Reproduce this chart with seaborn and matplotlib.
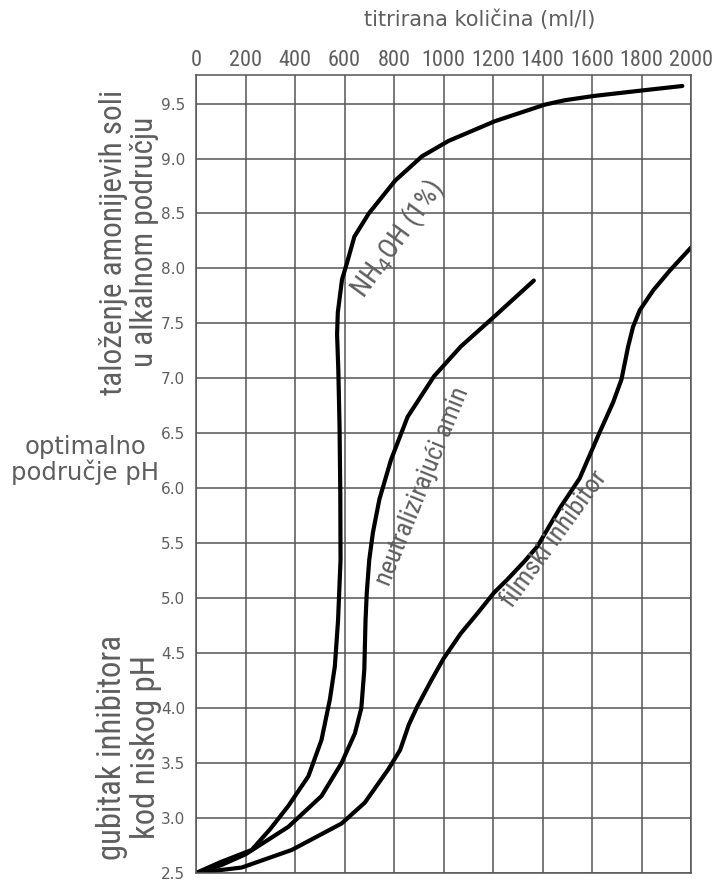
import matplotlib
matplotlib.use("Agg")
import matplotlib.pyplot as plt
from matplotlib import font_manager
import seaborn as sns
import pandas as pd

# ---- data ----
nh4oh_x = [0, 100, 225, 300, 373, 454, 507, 541, 561, 574, 584, 583, 580, 575, 570,
           573, 590, 610, 640, 698, 805, 913, 1020, 1208, 1409, 1489, 1610, 1805, 1965]
nh4oh_y = [2.5, 2.6, 2.71, 2.9, 3.11, 3.38, 3.71, 4.08, 4.38, 4.8, 5.35, 5.95, 6.56, 7.08, 7.4,
           7.6, 7.9, 8.05, 8.29, 8.5, 8.8, 9.02, 9.16, 9.34, 9.49, 9.53, 9.57, 9.62, 9.66]

amin_x = [0, 100, 200, 373, 507, 588, 642, 668, 680, 685, 690, 700, 715, 741, 788,
          855, 962, 1070, 1204, 1365]
amin_y = [2.5, 2.57, 2.67, 2.92, 3.2, 3.5, 3.77, 4.0, 4.35, 4.8, 5.05, 5.35, 5.6, 5.9, 6.26,
          6.65, 7.02, 7.29, 7.56, 7.89]

film_x = [0, 185, 387, 588, 682, 776, 825, 860, 893, 950, 1000, 1070, 1140, 1204, 1258,
          1329, 1379, 1473, 1550, 1631, 1685, 1719, 1746, 1766, 1793, 1847, 1914, 2000]
film_y = [2.5, 2.55, 2.71, 2.95, 3.14, 3.44, 3.62, 3.85, 4.01, 4.25, 4.45, 4.68, 4.87, 5.05, 5.17,
          5.34, 5.47, 5.83, 6.09, 6.51, 6.78, 6.99, 7.29, 7.47, 7.62, 7.80, 7.98, 8.19]

x_ticks = [0, 200, 400, 600, 800, 1000, 1200, 1400, 1600, 1800, 2000]
y_ticks = [2.5, 3.0, 3.5, 4.0, 4.5, 5.0, 5.5, 6.0, 6.5, 7.0, 7.5, 8.0, 8.5, 9.0, 9.5]

x_title = "titrirana količina (ml/l)"
curve_labels = ["NH$_4$OH (1%)", "neutralizirajući amin", "filmski inhibitor"]
zone_labels = ["taloženje amonijevih soli\nu alkalnom području",
               "optimalno\npodručje pH",
               "gubitak inhibitora\nkod niskog pH"]

# ---- build table ----
series = ["nh4oh", "amin", "film"]
frames = []
for name, xs, ys in zip(series, [nh4oh_x, amin_x, film_x], [nh4oh_y, amin_y, film_y]):
    frames.append(pd.DataFrame({"x": xs, "y": ys, "s": name}))
df = pd.concat(frames, ignore_index=True)

sns.set_style("white")

# look for an upright, regular-weight condensed / narrow sans font
cands = []
for f in font_manager.fontManager.ttflist:
    nm = f.name
    st = f.stretch
    fn = f.fname.lower()
    is_narrow = ("Narrow" in nm or "Condensed" in nm or "Cond" in nm or
                 "condensed" in fn or "narrow" in fn or
                 st in ("condensed", "semi-condensed", "extra-condensed", "ultra-condensed") or
                 (isinstance(st, (int, float)) and st < 500))
    upright = f.style == "normal" and "italic" not in fn and "oblique" not in fn
    regular = f.weight in (400, "normal", "regular", "book")
    if is_narrow and upright and regular and "semicondensed" not in fn:
        cands.append(f)
pref = ["Liberation Sans Narrow", "Roboto Condensed", "Open Sans Condensed", "Noto Sans",
        "DejaVu Sans"]
cands.sort(key=lambda f: (pref.index(f.name) if f.name in pref else 99, len(f.fname)))
if cands:
    narrow_fp = font_manager.FontProperties(fname=cands[0].fname)
    nscale = 1.0
else:
    narrow_fp = font_manager.FontProperties(family="Liberation Sans")
    nscale = 0.85


def nfp(size):
    p = narrow_fp.copy()
    p.set_size(size * nscale)
    return p


gray = "#5e5e5e"
grid_c = "#555555"

fig = plt.figure(figsize=(7.13, 8.8), dpi=100)
ax = fig.add_axes([196 / 713, 7 / 880, 495 / 713, 798 / 880])

sns.lineplot(data=df, x="x", y="y", hue="s", units="s", estimator=None, sort=False,
             palette={"nh4oh": "black", "amin": "black", "film": "black"},
             linewidth=3.0, legend=False, ax=ax, solid_capstyle="round")

ax.set_xlim(0, 2000)
ax.set_ylim(2.5, 9.76)
ax.set_xticks(x_ticks)
ax.set_yticks(y_ticks)
ax.xaxis.tick_top()
ax.set_xticklabels([str(v) for v in x_ticks], color=gray, fontproperties=nfp(16))
ax.set_yticklabels([f"{v:.1f}" for v in y_ticks], fontsize=11, color=gray, family="DejaVu Sans")
ax.tick_params(axis="both", length=0)
ax.tick_params(axis="x", pad=3)
ax.tick_params(axis="y", pad=8)
ax.grid(True, color=grid_c, linewidth=1.1)
for sp in ax.spines.values():
    sp.set_visible(True)
    sp.set_color(grid_c)
    sp.set_linewidth(1.1)
ax.set_xlabel("")
ax.set_ylabel("")

fig.text(480 / 713, 1 - 20 / 880, x_title, ha="center", va="center",
         fontsize=15, color=gray, family="DejaVu Sans")

# curve labels
ax.text(812, 8.27, curve_labels[0], rotation=54, ha="center", va="center",
        color=gray, fontproperties=nfp(20), rotation_mode="anchor")
ax.text(914, 6.02, curve_labels[1], rotation=68, ha="center", va="center",
        color=gray, fontproperties=nfp(19), rotation_mode="anchor")
ax.text(1447, 5.54, curve_labels[2], rotation=54, ha="center", va="center",
        color=gray, fontproperties=nfp(19), rotation_mode="anchor")

# zone labels
fig.text(129 / 713, 1 - 242 / 880, zone_labels[0], rotation=90, ha="center", va="center",
         color=gray, fontproperties=nfp(22.5), multialignment="center", linespacing=1.08)
fig.text(85 / 713, 1 - 460 / 880, zone_labels[1], ha="center", va="center",
         fontsize=17.5, color=gray, family="DejaVu Sans", multialignment="center", linespacing=1.05)
fig.text(129 / 713, 1 - 747 / 880, zone_labels[2], rotation=90, ha="center", va="center",
         color=gray, fontproperties=nfp(23.5), multialignment="center", linespacing=1.08)

fig.savefig("out.png", dpi=100, facecolor="white")
